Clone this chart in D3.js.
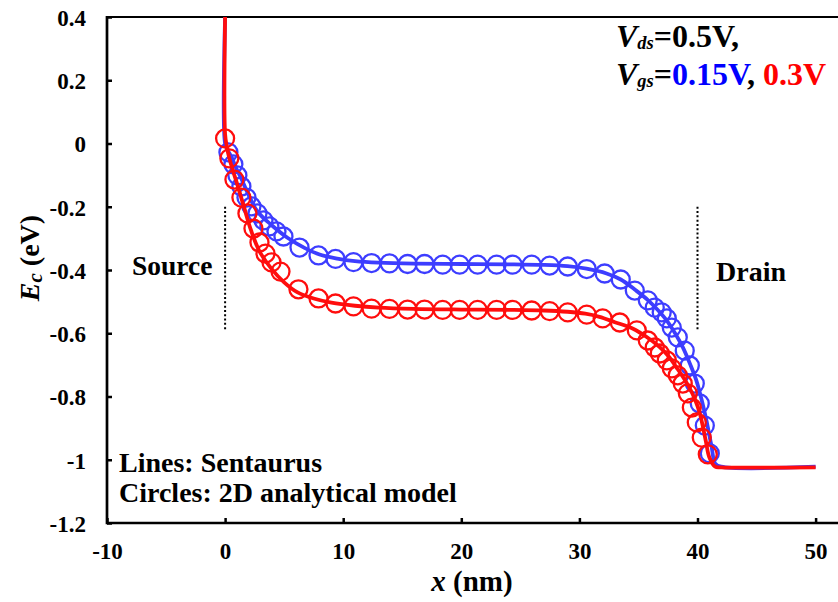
<!DOCTYPE html>
<html>
<head>
<meta charset="utf-8">
<script src="https://cdn.jsdelivr.net/npm/d3@7"></script>
<style>
  html, body { margin: 0; padding: 0; background: #fff; }
  svg { display: block; }
</style>
</head>
<body>
<svg id="chart" width="838" height="602"></svg>
<script>
// Axis ticks
const xTicks = [-10, 0, 10, 20, 30, 40, 50];
const yTicks = [0.4, 0.2, 0, -0.2, -0.4, -0.6, -0.8, -1, -1.2];

// Sentaurus conduction-band profile, Vgs = 0.15 V
const blueLineX = [0, 0, 0.2, 0.51, 0.9, 1.36, 1.89, 2.74, 3.9, 5.28,
  6.72, 8, 9.5, 11, 13, 16, 20, 24, 27, 29,
  30.6, 32.3, 33.5, 34.8, 35.8, 36.6, 37.4, 38.1, 38.75, 39.4,
  39.9, 40.35, 40.76, 41.2, 41.5, 42, 50];
const blueLineE = [0.4, 0.0, -0.02, -0.04, -0.075, -0.11, -0.155, -0.215, -0.257, -0.298,
  -0.33, -0.351, -0.364, -0.372, -0.377, -0.38, -0.381, -0.382, -0.384, -0.388,
  -0.396, -0.411, -0.43, -0.465, -0.495, -0.525, -0.56, -0.6, -0.644, -0.7,
  -0.749, -0.81, -0.876, -0.96, -1.012, -1.022, -1.022];

// Sentaurus conduction-band profile, Vgs = 0.3 V
const redLineX = [0, 0, 0.15, 0.36, 0.7, 1.04, 1.64, 2.2, 2.9, 3.9,
  5.0, 6.1, 7.5, 9, 11, 13, 16, 20, 24, 27,
  29, 30.5, 31.7, 33, 34.5, 35.7, 36.8, 37.6, 38.2, 38.8,
  39.3, 39.8, 40.2, 40.7, 41.0, 41.5, 42, 50];
const redLineE = [0.4, 0.03, -0.01, -0.047, -0.09, -0.13, -0.206, -0.275, -0.34, -0.395,
  -0.439, -0.47, -0.49, -0.503, -0.513, -0.519, -0.523, -0.525, -0.526, -0.528,
  -0.532, -0.538, -0.548, -0.565, -0.585, -0.612, -0.644, -0.675, -0.707, -0.74,
  -0.771, -0.81, -0.854, -0.94, -0.992, -1.022, -1.024, -1.024];

// 2D analytical model, Vgs = 0.15 V
const blueCircleX = [0.28, 0.70, 1.04, 1.38, 1.81, 2.23, 2.74, 3.25, 3.75, 4.35, 4.94,
  6.30, 7.91, 9.35, 10.87, 12.40, 13.92, 15.45, 16.89, 18.42, 19.86,
  21.38, 22.99, 24.35, 25.96, 27.48, 29.01, 30.62, 32.14, 33.50, 34.69,
  35.79, 36.38, 36.97, 37.40, 37.82, 38.33, 38.92, 39.35, 39.77, 40.19,
  40.62, 41.04];
const blueCircleE = [-0.028, -0.066, -0.101, -0.136, -0.171, -0.199, -0.221, -0.243, -0.262, -0.278, -0.294,
  -0.329, -0.354, -0.365, -0.375, -0.378, -0.379, -0.381, -0.381, -0.383, -0.383,
  -0.383, -0.383, -0.383, -0.383, -0.386, -0.389, -0.397, -0.411, -0.430, -0.465,
  -0.496, -0.519, -0.534, -0.553, -0.582, -0.613, -0.655, -0.702, -0.759, -0.822,
  -0.892, -0.980];

// 2D analytical model, Vgs = 0.3 V
const redCircleX = [0.00, 0.36, 0.79, 1.38, 1.89, 2.40, 2.91, 3.42, 3.93, 4.69,
  6.21, 7.91, 9.35, 10.87, 12.40, 13.92, 15.45, 16.89, 18.42, 19.86,
  21.38, 22.99, 24.35, 25.96, 27.48, 29.01, 30.62, 31.97, 33.42, 34.86,
  35.79, 36.38, 36.81, 37.40, 37.82, 38.33, 38.75, 39.18, 39.52, 39.94,
  40.36, 40.87];
const redCircleE = [0.016, -0.047, -0.114, -0.171, -0.221, -0.269, -0.313, -0.348, -0.376, -0.405,
  -0.461, -0.490, -0.506, -0.515, -0.522, -0.523, -0.525, -0.525, -0.526, -0.526,
  -0.526, -0.526, -0.526, -0.528, -0.530, -0.534, -0.541, -0.553, -0.566, -0.591,
  -0.623, -0.645, -0.664, -0.686, -0.711, -0.733, -0.759, -0.790, -0.835, -0.882,
  -0.930, -0.983];

// Source / drain boundaries (nm) and the span of their dotted markers (eV)
const junctionX = [0, 40];
const junctionE = [-0.2, -0.59];

const BLUE = "#3d3dff";
const RED = "#ff0d0d";
const SERIF = "'Liberation Serif', 'Times New Roman', 'DejaVu Serif', serif";

const svg = d3.select("#chart")
  .style("font-family", SERIF).style("font-weight", "bold");
const plotLeft = 107, plotRight = 838, plotTop = 17, plotBottom = 523;

const x = d3.scaleLinear().domain([-10, 50]).range([plotLeft, 815.6]);
const y = d3.scaleLinear().domain([-1.2, 0.4]).range([plotBottom, plotTop]);

const fmt = d => String(+d.toFixed(1));

// Clip for the data marks
svg.append("defs").append("clipPath").attr("id", "plot")
  .append("rect").attr("x", plotLeft).attr("y", plotTop - 1)
  .attr("width", plotRight - plotLeft).attr("height", plotBottom - plotTop + 2);

function styleText(sel, size) {
  sel.style("font-family", SERIF).style("font-weight", "bold")
    .style("font-size", size + "px").attr("fill", "#000");
  return sel;
}

// Y axis
const gy = svg.append("g").attr("transform", `translate(${plotLeft},0)`)
  .call(d3.axisLeft(y).tickValues(yTicks).tickFormat(fmt).tickSize(-5).tickPadding(21).tickSizeOuter(0));
gy.select(".domain").remove();
gy.selectAll(".tick line").attr("stroke", "#000").attr("stroke-width", 2.5);
styleText(gy.selectAll(".tick text"), 23).attr("dy", "0.36em");

// X axis
const gx = svg.append("g").attr("transform", `translate(0,${plotBottom})`)
  .call(d3.axisBottom(x).tickValues(xTicks).tickFormat(fmt).tickSize(-5).tickSizeOuter(0));
gx.select(".domain").remove();
gx.selectAll(".tick line").attr("stroke", "#000").attr("stroke-width", 2.5);
styleText(gx.selectAll(".tick text"), 23).attr("y", 36).attr("dy", 0);

// Frame lines
svg.append("line").attr("x1", plotLeft).attr("x2", plotLeft).attr("y1", plotTop - 1).attr("y2", plotBottom + 1.25)
  .attr("stroke", "#000").attr("stroke-width", 2.7);
svg.append("line").attr("x1", plotLeft).attr("x2", plotRight).attr("y1", plotBottom).attr("y2", plotBottom)
  .attr("stroke", "#000").attr("stroke-width", 2.7);
svg.append("line").attr("x1", plotLeft).attr("x2", plotRight).attr("y1", plotTop).attr("y2", plotTop)
  .attr("stroke", "#000").attr("stroke-width", 2.2);

// Dotted source / drain markers
svg.selectAll(".junction").data(junctionX).join("line")
  .attr("class", "junction")
  .attr("x1", d => x(d)).attr("x2", d => x(d))
  .attr("y1", y(junctionE[0])).attr("y2", y(junctionE[1]))
  .attr("stroke", "#000").attr("stroke-width", 2).attr("stroke-dasharray", "2,2.3");

const marks = svg.append("g").attr("clip-path", "url(#plot)");

const line = d3.line().x(d => x(d[0])).y(d => y(d[1])).curve(d3.curveCatmullRom.alpha(0.5));

function drawLine(xs, es, color) {
  marks.append("path").datum(xs.map((v, i) => [v, es[i]]))
    .attr("d", line).attr("fill", "none")
    .attr("stroke", color).attr("stroke-width", 3.8).attr("stroke-linejoin", "round");
}
function drawCircles(xs, es, color) {
  marks.append("g").selectAll("circle").data(xs.map((v, i) => [v, es[i]])).join("circle")
    .attr("cx", d => x(d[0])).attr("cy", d => y(d[1])).attr("r", 9)
    .attr("fill", "none").attr("stroke", color).attr("stroke-width", 2.3);
}

drawLine(blueLineX, blueLineE, BLUE);
drawCircles(blueCircleX, blueCircleE, BLUE);
drawLine(redLineX, redLineE, RED);
drawCircles(redCircleX, redCircleE, RED);

// Region labels
styleText(svg.append("text").attr("x", 132).attr("y", 275), 27.5).text("Source");
styleText(svg.append("text").attr("x", 716).attr("y", 280.5), 28).text("Drain");

// Model legend
styleText(svg.append("text").attr("x", 119).attr("y", 472), 28).text("Lines: Sentaurus");
styleText(svg.append("text").attr("x", 119).attr("y", 502), 28).text("Circles: 2D analytical model");

// Bias annotation
const t1 = styleText(svg.append("text").attr("x", 616).attr("y", 46.5), 32);
t1.append("tspan").style("font-style", "italic").text("V");
t1.append("tspan").style("font-style", "italic").style("font-size", "18.5px").attr("dy", 2).text("ds");
t1.append("tspan").attr("dy", -2).text("=0.5V,");

const t2 = styleText(svg.append("text").attr("x", 616).attr("y", 85), 32);
t2.append("tspan").style("font-style", "italic").text("V");
t2.append("tspan").style("font-style", "italic").style("font-size", "18.5px").attr("dy", 2).text("gs");
t2.append("tspan").attr("dy", -2).text("=");
t2.append("tspan").attr("fill", "#0000ff").text("0.15V");
t2.append("tspan").text(", ");
t2.append("tspan").attr("fill", "#ff0000").text("0.3V");

// Axis titles
const xt = styleText(svg.append("text").attr("x", 472).attr("y", 591).attr("text-anchor", "middle"), 29);
xt.append("tspan").style("font-style", "italic").text("x");
xt.append("tspan").text(" (nm)");

const yt = styleText(svg.append("text").attr("transform", "translate(39,258) rotate(-90)")
  .attr("text-anchor", "middle"), 28);
yt.append("tspan").style("font-style", "italic").text("E");
yt.append("tspan").style("font-style", "italic").style("font-size", "21px").attr("dy", 3).text("c");
yt.append("tspan").attr("dy", -3).text(" (eV)");
</script>
</body>
</html>
